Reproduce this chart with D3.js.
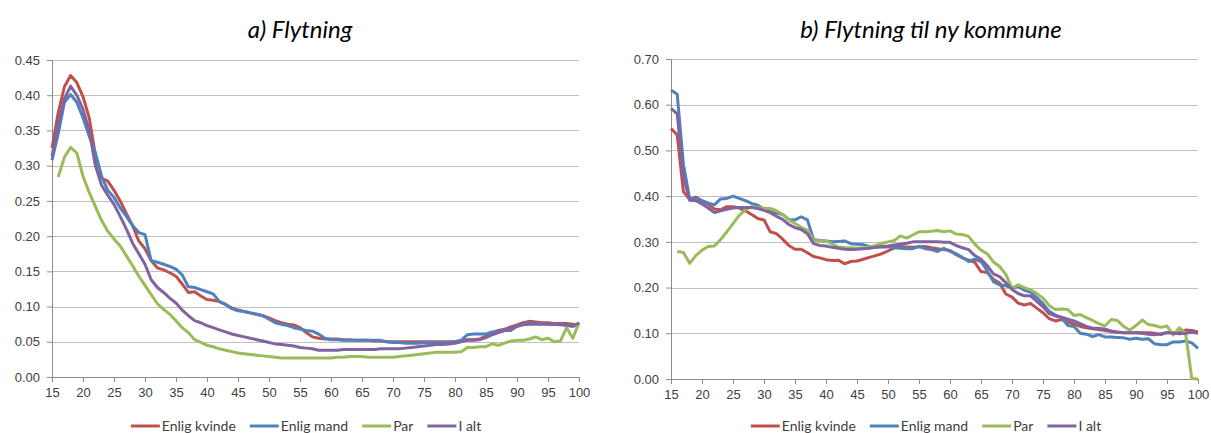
<!DOCTYPE html>
<html>
<head>
<meta charset="utf-8">
<style>
body { margin:0; background:#ffffff; }
svg { display:block; font-family:Lato, "Open Sans", sans-serif; }
.grid line { stroke:#bfbfbf; stroke-width:1px; }
.axis text { fill:#404040; font-size:13px; }
.axis path, .axis line { stroke:#8c8c8c; }
.title { font-size:24px; font-style:italic; fill:#000; }
.legend text { font-size:14px; fill:#404040; }
</style>
<script src="https://cdnjs.cloudflare.com/ajax/libs/d3/7.8.5/d3.min.js"></script>
</head>
<body>
<svg width="1211" height="433"></svg>
<script>
// ages 15..100
var ages = d3.range(15, 101);
var seriesNames = ["Enlig kvinde", "Enlig mand", "Par", "I alt"];
var colors = ["#c0504d", "#4f81bd", "#9bbb59", "#8064a2"];
var xTicks = d3.range(15, 101, 5);
var yTicksA = [0, 0.05, 0.10, 0.15, 0.20, 0.25, 0.30, 0.35, 0.40, 0.45];
var yTicksB = [0, 0.10, 0.20, 0.30, 0.40, 0.50, 0.60, 0.70];

// a) Flytning
var aKvinde = [0.325,0.375,0.412,0.428,0.418,0.398,0.368,0.315,0.282,0.278,0.265,0.250,0.232,0.215,0.193,0.182,0.165,0.155,0.152,0.148,
  0.143,0.132,0.120,0.121,0.115,0.110,0.109,0.107,0.103,0.098,0.095,0.093,0.091,0.089,0.087,0.084,0.080,0.077,0.075,0.074,
  0.070,0.063,0.057,0.055,0.054,0.054,0.054,0.053,0.053,0.052,0.052,0.052,0.051,0.051,0.050,0.050,0.050,0.050,0.050,0.050,
  0.050,0.050,0.050,0.050,0.050,0.050,0.052,0.053,0.053,0.054,0.058,0.063,0.066,0.068,0.071,0.074,0.077,0.079,0.078,0.077,
  0.077,0.076,0.076,0.076,0.075,0.074];
var aMand = [0.308,0.345,0.390,0.401,0.390,0.368,0.342,0.318,0.285,0.265,0.255,0.240,0.228,0.215,0.205,0.202,0.165,0.163,0.160,0.157,
  0.153,0.145,0.128,0.127,0.124,0.121,0.118,0.107,0.103,0.097,0.094,0.093,0.091,0.089,0.087,0.082,0.077,0.075,0.073,0.070,
  0.068,0.066,0.065,0.061,0.055,0.053,0.053,0.052,0.052,0.052,0.052,0.052,0.052,0.052,0.050,0.049,0.049,0.048,0.048,0.048,
  0.049,0.049,0.049,0.049,0.049,0.050,0.052,0.060,0.061,0.061,0.061,0.064,0.065,0.066,0.066,0.072,0.075,0.077,0.076,0.076,
  0.075,0.075,0.074,0.073,0.072,0.075];
var aPar = [null,0.284,0.312,0.326,0.318,0.285,0.262,0.242,0.222,0.207,0.196,0.186,0.172,0.158,0.143,0.130,0.117,0.104,0.096,0.089,
  0.080,0.070,0.063,0.053,0.049,0.045,0.043,0.040,0.038,0.036,0.034,0.033,0.032,0.031,0.030,0.029,0.028,0.027,0.027,0.027,
  0.027,0.027,0.027,0.027,0.027,0.027,0.028,0.028,0.029,0.029,0.029,0.028,0.028,0.028,0.028,0.028,0.029,0.030,0.031,0.032,
  0.033,0.034,0.035,0.035,0.035,0.035,0.036,0.042,0.042,0.043,0.043,0.047,0.045,0.048,0.051,0.052,0.052,0.054,0.057,0.053,
  0.055,0.050,0.051,0.070,0.055,0.077];
var aIalt = [0.313,0.360,0.395,0.413,0.400,0.380,0.350,0.300,0.272,0.258,0.245,0.228,0.210,0.190,0.175,0.160,0.138,0.127,0.120,0.112,
  0.105,0.095,0.087,0.080,0.077,0.073,0.070,0.067,0.064,0.061,0.059,0.057,0.055,0.053,0.051,0.049,0.047,0.046,0.045,0.044,
  0.042,0.041,0.040,0.038,0.038,0.038,0.038,0.039,0.039,0.039,0.039,0.039,0.039,0.040,0.040,0.040,0.040,0.041,0.042,0.043,
  0.044,0.045,0.046,0.046,0.047,0.048,0.050,0.052,0.052,0.053,0.056,0.060,0.063,0.066,0.069,0.072,0.074,0.075,0.075,0.075,
  0.075,0.075,0.075,0.074,0.072,0.077];

// b) Flytning til ny kommune
var bKvinde = [0.548,0.534,0.410,0.393,0.398,0.390,0.382,0.372,0.370,0.377,0.377,0.374,0.368,0.360,0.351,0.348,0.322,0.318,0.306,0.292,
  0.284,0.284,0.276,0.268,0.265,0.261,0.259,0.260,0.252,0.257,0.258,0.262,0.266,0.270,0.274,0.280,0.287,0.290,0.289,0.288,
  0.289,0.290,0.287,0.285,0.283,0.281,0.272,0.265,0.260,0.255,0.235,0.233,0.218,0.210,0.186,0.179,0.166,0.162,0.165,0.155,
  0.145,0.132,0.127,0.130,0.125,0.120,0.115,0.112,0.110,0.108,0.106,0.104,0.102,0.101,0.101,0.101,0.101,0.101,0.100,0.097,
  0.102,0.101,0.102,0.107,0.106,0.103];
var bMand = [0.632,0.623,0.470,0.395,0.394,0.390,0.385,0.381,0.394,0.395,0.400,0.395,0.390,0.384,0.380,0.372,0.366,0.363,0.360,0.349,
  0.348,0.355,0.348,0.305,0.303,0.302,0.300,0.301,0.302,0.296,0.295,0.294,0.290,0.289,0.289,0.289,0.287,0.286,0.285,0.285,
  0.290,0.285,0.283,0.279,0.286,0.279,0.274,0.266,0.257,0.262,0.257,0.237,0.213,0.206,0.204,0.199,0.202,0.194,0.190,0.178,
  0.165,0.148,0.140,0.134,0.117,0.115,0.100,0.098,0.093,0.097,0.092,0.092,0.091,0.090,0.087,0.089,0.087,0.088,0.077,0.075,
  0.075,0.081,0.081,0.083,0.079,0.067];
var bPar = [null,0.279,0.277,0.253,0.270,0.282,0.290,0.291,0.305,0.322,0.340,0.358,0.370,0.377,0.375,0.373,0.373,0.368,0.360,0.348,
  0.340,0.332,0.325,0.304,0.302,0.302,0.295,0.289,0.287,0.287,0.286,0.287,0.289,0.292,0.297,0.300,0.303,0.313,0.308,0.315,
  0.322,0.322,0.323,0.325,0.322,0.324,0.317,0.316,0.312,0.295,0.282,0.274,0.256,0.246,0.229,0.199,0.206,0.200,0.195,0.187,
  0.177,0.161,0.152,0.153,0.152,0.139,0.141,0.134,0.128,0.121,0.116,0.130,0.128,0.115,0.107,0.117,0.129,0.119,0.117,0.113,
  0.116,0.096,0.112,0.100,0.001,0.000];
var bIalt = [0.592,0.580,0.443,0.391,0.390,0.383,0.374,0.364,0.368,0.371,0.374,0.375,0.375,0.375,0.373,0.369,0.364,0.356,0.349,0.338,
  0.331,0.327,0.318,0.296,0.292,0.291,0.288,0.286,0.284,0.283,0.284,0.285,0.286,0.288,0.290,0.291,0.293,0.295,0.297,0.300,
  0.300,0.300,0.300,0.300,0.299,0.299,0.292,0.287,0.283,0.270,0.262,0.248,0.230,0.224,0.211,0.196,0.187,0.182,0.182,0.170,
  0.158,0.143,0.138,0.135,0.131,0.127,0.121,0.115,0.111,0.111,0.109,0.105,0.103,0.101,0.101,0.101,0.100,0.098,0.097,0.099,
  0.101,0.100,0.099,0.100,0.102,0.100];

var svg = d3.select("svg");

function drawChart(opt) {
  var x = d3.scaleLinear().domain([15, 100]).range([opt.left, opt.right]);
  var y = d3.scaleLinear().domain([0, opt.yMax]).range([opt.bottom, opt.top]);
  var g = svg.append("g");

  // gridlines
  g.append("g").attr("class", "grid").selectAll("line")
    .data(opt.yTicks.filter(function(d) { return d > 0; }))
    .enter().append("line")
    .attr("x1", opt.left).attr("x2", opt.right)
    .attr("y1", function(d) { return Math.round(y(d)) + 0.5; })
    .attr("y2", function(d) { return Math.round(y(d)) + 0.5; });

  var yAxis = d3.axisLeft(y).tickValues(opt.yTicks).tickFormat(d3.format(".2f")).tickSize(5).tickPadding(7);
  g.append("g").attr("class", "axis").attr("transform", "translate(" + opt.left + ",0)").call(yAxis);

  var xAxis = d3.axisBottom(x).tickValues(xTicks).tickFormat(d3.format("d")).tickSize(5).tickSizeOuter(0).tickPadding(6);
  g.append("g").attr("class", "axis").attr("transform", "translate(0," + opt.bottom + ")").call(xAxis);

  var line = d3.line()
    .defined(function(d) { return d[1] != null; })
    .x(function(d) { return x(d[0]); })
    .y(function(d) { return y(d[1]); });

  opt.series.forEach(function(vals, i) {
    g.append("path")
      .datum(ages.map(function(a, k) { return [a, vals[k]]; }))
      .attr("fill", "none")
      .attr("stroke", colors[i])
      .attr("stroke-width", 3)
      .attr("stroke-linejoin", "round")
      .attr("d", line);
  });

  svg.append("text").attr("class", "title")
    .attr("x", opt.titleX).attr("y", 38)
    .attr("text-anchor", "middle")
    .text(opt.title);

  // legend
  var lg = svg.append("g").attr("class", "legend");
  var cx = 0;
  seriesNames.forEach(function(name, i) {
    var item = lg.append("g").attr("transform", "translate(" + cx + ",0)");
    item.append("line").attr("x1", 0).attr("x2", 29).attr("y1", 0).attr("y2", 0)
      .attr("stroke", colors[i]).attr("stroke-width", 3);
    var t = item.append("text").attr("x", 31).attr("y", 5).text(name);
    cx += 31 + t.node().getComputedTextLength() + 14;
  });
  var w = cx - 14;
  lg.attr("transform", "translate(" + (opt.legendX - w / 2) + ",426)");
}

drawChart({
  left: 52, right: 579, top: 60, bottom: 377, yMax: 0.45, yTicks: yTicksA,
  series: [aKvinde, aMand, aPar, aIalt],
  title: "a) Flytning", titleX: 300, legendX: 306
});
drawChart({
  left: 671, right: 1198, top: 59, bottom: 379, yMax: 0.70, yTicks: yTicksB,
  series: [bKvinde, bMand, bPar, bIalt],
  title: "b) Flytning til ny kommune", titleX: 931, legendX: 926
});
</script>
</body>
</html>
